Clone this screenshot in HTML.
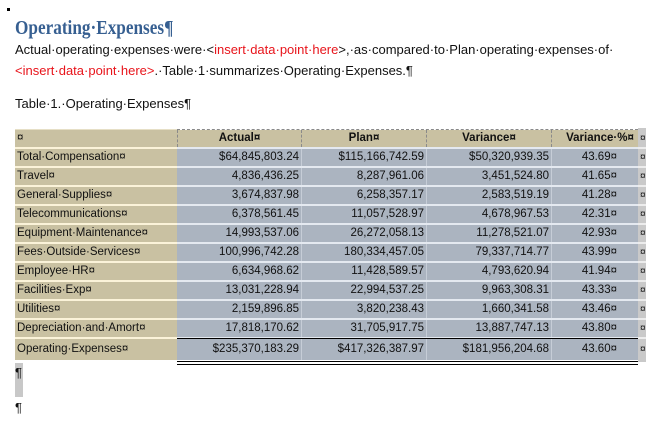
<!DOCTYPE html>
<html><head><meta charset="utf-8">
<style>
html,body{margin:0;padding:0;background:#fff;}
body{width:655px;height:423px;position:relative;overflow:hidden;font-family:"Liberation Sans",sans-serif;color:#111;}
.abs{position:absolute;white-space:nowrap;}
.h1{left:15px;top:14px;font-family:"Liberation Serif",serif;font-weight:bold;font-size:20px;color:#365f91;line-height:28px;transform:scaleX(0.86);transform-origin:0 0;}
.p{left:15px;font-size:13px;line-height:18px;}
.red{color:#e8141b;}
.row{position:absolute;left:15px;width:631px;height:17px;}
.cell{position:absolute;top:0;height:100%;font-size:11.5px;line-height:17px;white-space:nowrap;box-sizing:border-box;}
.c0{left:0;width:162px;background:#c9c1a2;padding-left:2px;}
.c1{left:162px;width:125px;background:#abb4c0;text-align:right;padding-right:2px;border-right:1px solid #c6cdd7;}
.c2{left:287px;width:125px;background:#abb4c0;text-align:right;padding-right:2px;border-right:1px solid #c6cdd7;}
.c3{left:412px;width:125px;background:#abb4c0;text-align:right;padding-right:2px;border-right:1px solid #c6cdd7;}
.c4{left:537px;width:86px;background:#abb4c0;text-align:right;padding-right:21px;}
.c5{left:623px;width:8px;background:#c9c9c9;padding-left:2px;font-size:10px;}
.hdr .c1,.hdr .c2,.hdr .c3,.hdr .c4{background:#c9c1a2;text-align:center;font-weight:bold;padding:0;border-right:1px dashed #8a8a8a;}
.hdr .c4{padding-left:10px;border-right:none;}
.sep{position:absolute;left:15px;width:631px;height:2px;}
.sep .a{position:absolute;left:0;width:162px;height:2px;background:#fbf3d9;}
.sep .b{position:absolute;left:162px;width:461px;height:2px;background:#e4e9f0;}
.sep .d{position:absolute;left:623px;width:8px;height:2px;background:#ececec;}
</style></head><body>
<div class="abs" style="left:7px;top:8px;width:3px;height:3px;background:#000;"></div>
<div class="abs h1">Operating·Expenses¶</div>
<div class="abs p" style="top:41px;">Actual·operating·expenses·were·&lt;<span class="red">insert·data·point·here</span>&gt;,·as·compared·to·Plan·operating·expenses·of·</div>
<div class="abs p" style="top:62px;"><span class="red">&lt;insert·data·point·here&gt;</span>.·Table·1·summarizes·Operating·Expenses.¶</div>
<div class="abs p" style="top:95px;">Table·1.·Operating·Expenses¶</div>

<!-- header top line -->
<div class="abs" style="left:15px;top:129px;width:162px;height:1px;background:#e6dfc6;"></div>
<div class="abs" style="left:177px;top:129px;width:461px;height:0;border-top:1px dashed #8a8a8a;"></div>
<div class="abs" style="left:638px;top:128px;width:8px;height:2px;background:#c9c9c9;"></div>

<div class="row hdr" style="top:130px;"><div class="cell c0">¤</div><div class="cell c1" style="border-left:1px dashed #8a8a8a;">Actual¤</div><div class="cell c2">Plan¤</div><div class="cell c3">Variance¤</div><div class="cell c4">Variance·%¤</div><div class="cell c5">¤</div></div>
<div class="sep" style="top:147px;"><div class="a"></div><div class="b"></div><div class="d"></div></div>

<div class="row" style="top:149px;"><div class="cell c0">Total·Compensation¤</div><div class="cell c1">$64,845,803.24</div><div class="cell c2">$115,166,742.59</div><div class="cell c3">$50,320,939.35</div><div class="cell c4">43.69¤</div><div class="cell c5">¤</div></div>
<div class="sep" style="top:166px;"><div class="a"></div><div class="b"></div><div class="d"></div></div>

<div class="row" style="top:168px;"><div class="cell c0">Travel¤</div><div class="cell c1">4,836,436.25</div><div class="cell c2">8,287,961.06</div><div class="cell c3">3,451,524.80</div><div class="cell c4">41.65¤</div><div class="cell c5">¤</div></div>
<div class="sep" style="top:185px;"><div class="a"></div><div class="b"></div><div class="d"></div></div>

<div class="row" style="top:187px;"><div class="cell c0">General·Supplies¤</div><div class="cell c1">3,674,837.98</div><div class="cell c2">6,258,357.17</div><div class="cell c3">2,583,519.19</div><div class="cell c4">41.28¤</div><div class="cell c5">¤</div></div>
<div class="sep" style="top:204px;"><div class="a"></div><div class="b"></div><div class="d"></div></div>

<div class="row" style="top:206px;"><div class="cell c0">Telecommunications¤</div><div class="cell c1">6,378,561.45</div><div class="cell c2">11,057,528.97</div><div class="cell c3">4,678,967.53</div><div class="cell c4">42.31¤</div><div class="cell c5">¤</div></div>
<div class="sep" style="top:223px;"><div class="a"></div><div class="b"></div><div class="d"></div></div>

<div class="row" style="top:225px;"><div class="cell c0">Equipment·Maintenance¤</div><div class="cell c1">14,993,537.06</div><div class="cell c2">26,272,058.13</div><div class="cell c3">11,278,521.07</div><div class="cell c4">42.93¤</div><div class="cell c5">¤</div></div>
<div class="sep" style="top:242px;"><div class="a"></div><div class="b"></div><div class="d"></div></div>

<div class="row" style="top:244px;"><div class="cell c0">Fees·Outside·Services¤</div><div class="cell c1">100,996,742.28</div><div class="cell c2">180,334,457.05</div><div class="cell c3">79,337,714.77</div><div class="cell c4">43.99¤</div><div class="cell c5">¤</div></div>
<div class="sep" style="top:261px;"><div class="a"></div><div class="b"></div><div class="d"></div></div>

<div class="row" style="top:263px;"><div class="cell c0">Employee·HR¤</div><div class="cell c1">6,634,968.62</div><div class="cell c2">11,428,589.57</div><div class="cell c3">4,793,620.94</div><div class="cell c4">41.94¤</div><div class="cell c5">¤</div></div>
<div class="sep" style="top:280px;"><div class="a"></div><div class="b"></div><div class="d"></div></div>

<div class="row" style="top:282px;"><div class="cell c0">Facilities·Exp¤</div><div class="cell c1">13,031,228.94</div><div class="cell c2">22,994,537.25</div><div class="cell c3">9,963,308.31</div><div class="cell c4">43.33¤</div><div class="cell c5">¤</div></div>
<div class="sep" style="top:299px;"><div class="a"></div><div class="b"></div><div class="d"></div></div>

<div class="row" style="top:301px;"><div class="cell c0">Utilities¤</div><div class="cell c1">2,159,896.85</div><div class="cell c2">3,820,238.43</div><div class="cell c3">1,660,341.58</div><div class="cell c4">43.46¤</div><div class="cell c5">¤</div></div>
<div class="sep" style="top:318px;"><div class="a"></div><div class="b"></div><div class="d"></div></div>

<div class="row" style="top:320px;"><div class="cell c0">Depreciation·and·Amort¤</div><div class="cell c1">17,818,170.62</div><div class="cell c2">31,705,917.75</div><div class="cell c3">13,887,747.13</div><div class="cell c4">43.80¤</div><div class="cell c5">¤</div></div>
<div class="sep" style="top:337px;"><div class="a"></div><div class="b" style="height:1px;"></div><div class="d"></div></div>
<div class="abs" style="left:177px;top:338px;width:461px;height:1px;background:#000;"></div>

<div class="row" style="top:339px;height:21px;"><div class="cell c0" style="line-height:21px;">Operating·Expenses¤</div><div class="cell c1" style="line-height:21px;">$235,370,183.29</div><div class="cell c2" style="line-height:21px;">$417,326,387.97</div><div class="cell c3" style="line-height:21px;">$181,956,204.68</div><div class="cell c4" style="line-height:21px;">43.60¤</div><div class="cell c5" style="line-height:21px;height:23px;">¤</div></div>
<div class="abs" style="left:177px;top:361px;width:461px;height:1px;background:#000;"></div>
<div class="abs" style="left:177px;top:364px;width:461px;height:1px;background:#000;"></div>

<div class="abs" style="left:15px;top:363px;width:8px;height:34px;background:#c8c8c8;"></div>
<div class="abs" style="left:15px;top:365px;font-size:13px;line-height:16px;">¶</div>
<div class="abs" style="left:15px;top:400px;font-size:13px;line-height:16px;">¶</div>
</body></html>
